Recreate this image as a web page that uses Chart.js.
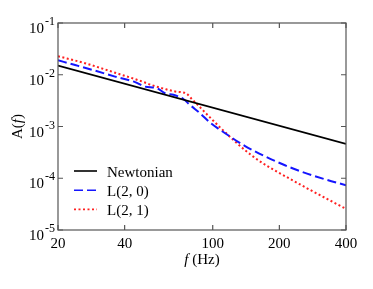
<!DOCTYPE html>
<html lang="en">
<head>
<meta charset="UTF-8">
<title>A(f)</title>
<script src="https://cdn.jsdelivr.net/npm/chart.js@4"></script>
<style>
  html, body { margin: 0; padding: 0; background: #fff; }
  #wrap { width: 373px; height: 289px; }
</style>
</head>
<body>
<div id="wrap"><canvas id="grafico"></canvas></div>
<script>
    // valores (f em Hz, amplitude A(f))
    const freqNewton = [20, 400];
    const ampNewton = [0.015, 4.6e-4];

    const freqL20 = [20, 23.9, 29.4, 36.2, 44.6, 49.4, 55.9, 60.9, 66.4, 69.9, 73.7, 79.0, 87.7,
        97.3, 107.9, 119.7, 130.2, 140, 155.3, 172.3, 191, 212, 230.6, 266.8, 327, 400];
    const ampL20 = [0.0190, 0.0154, 0.0120, 0.0092, 0.0072, 0.0059, 0.0055, 0.0044, 0.0041, 0.0038, 0.0034,
        0.0026, 0.0018, 0.00119, 8.65e-4, 6.4e-4, 5.06e-4, 4.19e-4, 3.3e-4, 2.65e-4, 2.16e-4,
        1.78e-4, 1.54e-4, 1.23e-4, 9.35e-5, 7.35e-5];

    const freqL21 = [20, 26.5, 36.8, 48.4, 53.0, 60.9, 65.3, 68.8, 72.4, 76.3, 80.4, 85.9, 90.4, 95.3,
        100.3, 107.9, 113.7, 121.9, 128.4, 140, 150.1, 160.8, 172.3, 184.7, 197.9, 212, 266.8, 400];
    const ampL21 = [0.0228, 0.0167, 0.0107, 0.0073, 0.0063, 0.0053, 0.0049, 0.0047, 0.0046, 0.0043,
        0.0034, 0.00257, 0.00205, 0.00163, 0.00131, 9.6e-4, 7.76e-4, 5.87e-4, 4.8e-4, 3.48e-4, 2.75e-4,
        2.22e-4, 1.83e-4, 1.53e-4, 1.29e-4, 1.1e-4, 6.4e-5, 2.56e-5];

    const xTicks = [20, 40, 100, 200, 400];
    const yTicks = [1e-5, 1e-4, 1e-3, 1e-2, 1e-1];
    const yExpoentes = ['-5', '-4', '-3', '-2', '-1'];
    const nomesSeries = ['Newtonian', 'L(2, 0)', 'L(2, 1)'];

    const fonte = 'Liberation Serif';

    function pontos(fs, as) {
        return fs.map((f, i) => ({ x: f, y: as[i] }));
    }

    // moldura, ticks para dentro, rótulos, títulos e legenda
    const moldura = {
        id: 'moldura',
        afterDatasetsDraw(chart) {
            const ctx = chart.ctx;
            const a = chart.chartArea;
            const sx = chart.scales.x;
            const sy = chart.scales.y;
            ctx.save();

            ctx.strokeStyle = '#555';
            ctx.lineWidth = 1.2;
            ctx.strokeRect(a.left, a.top, a.right - a.left, a.bottom - a.top);

            ctx.beginPath();
            xTicks.forEach(v => {
                const px = sx.getPixelForValue(v);
                ctx.moveTo(px, a.bottom); ctx.lineTo(px, a.bottom - 5);
                ctx.moveTo(px, a.top); ctx.lineTo(px, a.top + 5);
            });
            yTicks.forEach(v => {
                const py = sy.getPixelForValue(v);
                ctx.moveTo(a.left, py); ctx.lineTo(a.left + 5, py);
                ctx.moveTo(a.right, py); ctx.lineTo(a.right - 5, py);
            });
            ctx.stroke();

            ctx.fillStyle = '#000';
            ctx.textBaseline = 'alphabetic';

            // rótulos do eixo x
            ctx.font = '15px "' + fonte + '"';
            ctx.textAlign = 'center';
            xTicks.forEach(v => {
                ctx.fillText(String(v), sx.getPixelForValue(v), a.bottom + 18);
            });

            // rótulos do eixo y: 10 com expoente
            ctx.textAlign = 'left';
            yTicks.forEach((v, i) => {
                const py = sy.getPixelForValue(v);
                ctx.font = '12px "' + fonte + '"';
                const wExp = ctx.measureText(yExpoentes[i]).width;
                ctx.font = '15px "' + fonte + '"';
                const wBase = ctx.measureText('10').width;
                const xExp = a.left - 3 - wExp;
                ctx.fillText('10', xExp - 1 - wBase, py + 10);
                ctx.font = '12px "' + fonte + '"';
                ctx.fillText(yExpoentes[i], xExp, py + 2);
            });

            // título eixo x: f (Hz)
            const partesX = [['f', 'italic '], [' (Hz)', '']];
            let largura = 0;
            partesX.forEach(p => {
                ctx.font = p[1] + '15px "' + fonte + '"';
                largura += ctx.measureText(p[0]).width;
            });
            let cx = (a.left + a.right) / 2 - largura / 2;
            partesX.forEach(p => {
                ctx.font = p[1] + '15px "' + fonte + '"';
                ctx.fillText(p[0], cx, a.bottom + 34);
                cx += ctx.measureText(p[0]).width;
            });

            // título eixo y: A(f)
            const partesY = [['A(', ''], ['f', 'italic '], [')', '']];
            ctx.save();
            ctx.translate(22, (a.top + a.bottom) / 2);
            ctx.rotate(-Math.PI / 2);
            largura = 0;
            partesY.forEach(p => {
                ctx.font = p[1] + '15px "' + fonte + '"';
                largura += ctx.measureText(p[0]).width;
            });
            cx = -largura / 2;
            partesY.forEach(p => {
                ctx.font = p[1] + '15px "' + fonte + '"';
                ctx.fillText(p[0], cx, 0);
                cx += ctx.measureText(p[0]).width;
            });
            ctx.restore();

            // legenda
            chart.data.datasets.forEach((ds, i) => {
                const ly = a.top + 148 + i * 19.2;
                ctx.beginPath();
                ctx.strokeStyle = ds.borderColor;
                ctx.lineWidth = 1.6;
                ctx.setLineDash(ds.borderDash || []);
                ctx.moveTo(a.left + 16, ly);
                ctx.lineTo(a.left + 39, ly);
                ctx.stroke();
                ctx.setLineDash([]);
                ctx.font = '15px "' + fonte + '"';
                ctx.fillStyle = '#000';
                ctx.fillText(nomesSeries[i], a.left + 49, ly + 5.5);
            });

            ctx.restore();
        }
    };

    const grafico = new Chart(document.getElementById('grafico'), {
        type: 'line',
        data: {
            datasets: [
                {
                    label: nomesSeries[0],
                    data: pontos(freqNewton, ampNewton),
                    borderColor: '#000000',
                    borderWidth: 1.8
                },
                {
                    label: nomesSeries[1],
                    data: pontos(freqL20, ampL20),
                    borderColor: '#1515ff',
                    borderWidth: 2,
                    borderDash: [9, 4],
                    cubicInterpolationMode: 'monotone'
                },
                {
                    label: nomesSeries[2],
                    data: pontos(freqL21, ampL21),
                    borderColor: '#ff2020',
                    borderWidth: 2,
                    borderDash: [2, 2.5],
                    cubicInterpolationMode: 'monotone'
                }
            ]
        },
        options: {
            responsive: true,
            maintainAspectRatio: false,
            animation: false,
            devicePixelRatio: 1,
            layout: { padding: { left: 58, right: 27, top: 23, bottom: 59 } },
            elements: { point: { radius: 0 } },
            plugins: {
                legend: { display: false },
                tooltip: { enabled: false }
            },
            scales: {
                x: { type: 'logarithmic', min: 20, max: 400, display: false },
                y: { type: 'logarithmic', min: 1e-5, max: 1e-1, display: false }
            }
        },
        plugins: [moldura]
    });
</script>
</body>
</html>
